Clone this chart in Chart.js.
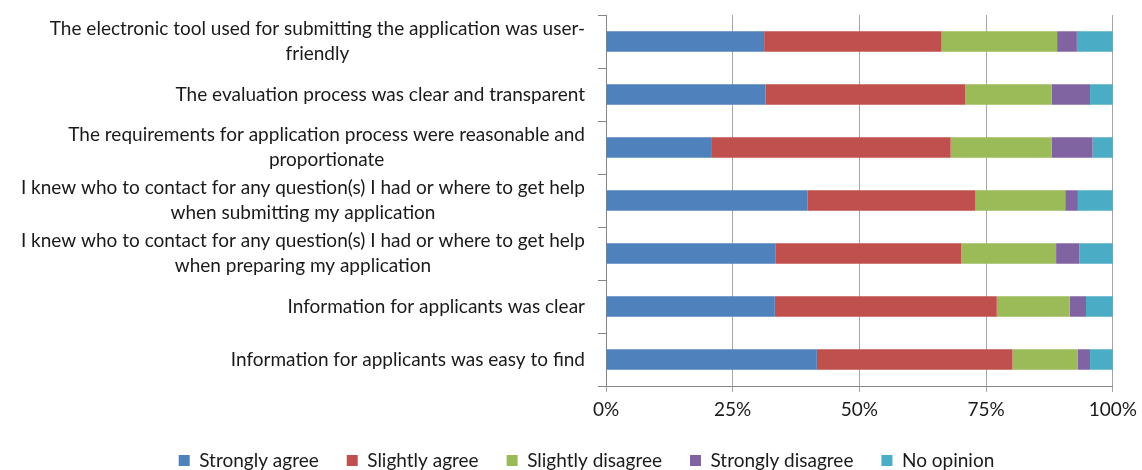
<!DOCTYPE html>
<html>
<head>
<meta charset="utf-8">
<script src="https://cdn.jsdelivr.net/npm/chart.js@4/dist/chart.umd.min.js"></script>
<style>
  html, body { margin: 0; padding: 0; background: #fff; }
  #wrap { width: 1142px; height: 470px; }
</style>
</head>
<body>
<div id="wrap"><canvas id="chart"></canvas></div>
<script>
'use strict'

const categories = [
    ['The electronic tool used for submitting the application was user-', 'friendly'],
    'The evaluation process was clear and transparent',
    ['The requirements for application process were reasonable and', 'proportionate'],
    ['I knew who to contact for any question(s) I had or where to get help', 'when submitting my application'],
    ['I knew who to contact for any question(s) I had or where to get help', 'when preparing my application'],
    'Information for applicants was clear',
    'Information for applicants was easy to find'
];

const stronglyAgree    = [31.2, 31.5, 20.9, 39.8, 33.5, 33.3, 41.6];
const slightlyAgree    = [35.0, 39.4, 47.1, 33.1, 36.6, 43.8, 38.6];
const slightlyDisagree = [22.8, 17.0, 19.9, 17.7, 18.7, 14.4, 12.9];
const stronglyDisagree = [3.9, 7.6, 8.1, 2.5, 4.6, 3.2, 2.4];
const noOpinion        = [7.1, 4.5, 4.0, 6.9, 6.6, 5.3, 4.5];

const xTicks = [0, 25, 50, 75, 100];

const textColor = '#1a1a1a';
const font = { family: 'Lato', size: 19 };

// category labels: block right-aligned, lines centred inside the block (like Excel)
const centredLabels = {
    id: 'centredLabels',
    afterDraw(chart) {
        const scale = chart.scales.y;
        const c = chart.ctx;
        const right = 585;
        const gap = 25;
        c.save();
        c.font = '19px Lato';
        c.fillStyle = textColor;
        c.textAlign = 'center';
        c.textBaseline = 'middle';
        categories.forEach((lab, i) => {
            const lines = Array.isArray(lab) ? lab : [lab];
            const w = Math.max(...lines.map(l => c.measureText(l).width));
            const cx = right - w / 2;
            const cy = scale.getPixelForValue(i);
            lines.forEach((l, j) => {
                c.fillText(l, cx, cy + (j - (lines.length - 1) / 2) * gap);
            });
        });
        c.restore();
    }
};

const ctx = document.getElementById('chart').getContext('2d');
const myChart = new Chart(ctx, {
    type: 'bar',
    data: {
        labels: categories,
        datasets: [
            { label: 'Strongly agree', data: stronglyAgree, backgroundColor: '#4F81BD' },
            { label: 'Slightly agree', data: slightlyAgree, backgroundColor: '#C0504D' },
            { label: 'Slightly disagree', data: slightlyDisagree, backgroundColor: '#9BBB59' },
            { label: 'Strongly disagree', data: stronglyDisagree, backgroundColor: '#8064A2' },
            { label: 'No opinion', data: noOpinion, backgroundColor: '#4BACC6' }
        ]
    },
    options: {
        indexAxis: 'y',
        responsive: true,
        maintainAspectRatio: false,
        animation: false,
        datasets: {
            bar: { barPercentage: 0.39, categoryPercentage: 1, borderWidth: 0 }
        },
        layout: { padding: { top: 15, right: 29, left: 60, bottom: -10 } },
        plugins: {
            tooltip: { enabled: false },
            legend: {
                position: 'bottom',
                labels: {
                    boxWidth: 11,
                    boxHeight: 11,
                    padding: 28,
                    color: textColor,
                    font: font
                }
            }
        },
        scales: {
            x: {
                stacked: true,
                min: 0,
                max: 100,
                afterBuildTicks: (scale) => {
                    scale.ticks = xTicks.map(v => ({ value: v }));
                },
                afterFit: (scale) => { scale.height = 37; },
                border: { color: '#868686' },
                grid: { color: '#a6a6a6', tickLength: 6 },
                ticks: {
                    color: textColor,
                    font: { family: 'Lato', size: 19, lineHeight: 1.4 },
                    padding: 5,
                    callback: (v) => v + '%'
                }
            },
            y: {
                stacked: true,
                afterFit: (scale) => { scale.width = 546; },
                border: { color: '#868686' },
                grid: { offset: true, drawOnChartArea: false, tickLength: 8, color: '#868686' },
                ticks: { color: 'rgba(0,0,0,0)', font: font }
            }
        }
    },
    plugins: [centredLabels]
});
</script>
</body>
</html>
